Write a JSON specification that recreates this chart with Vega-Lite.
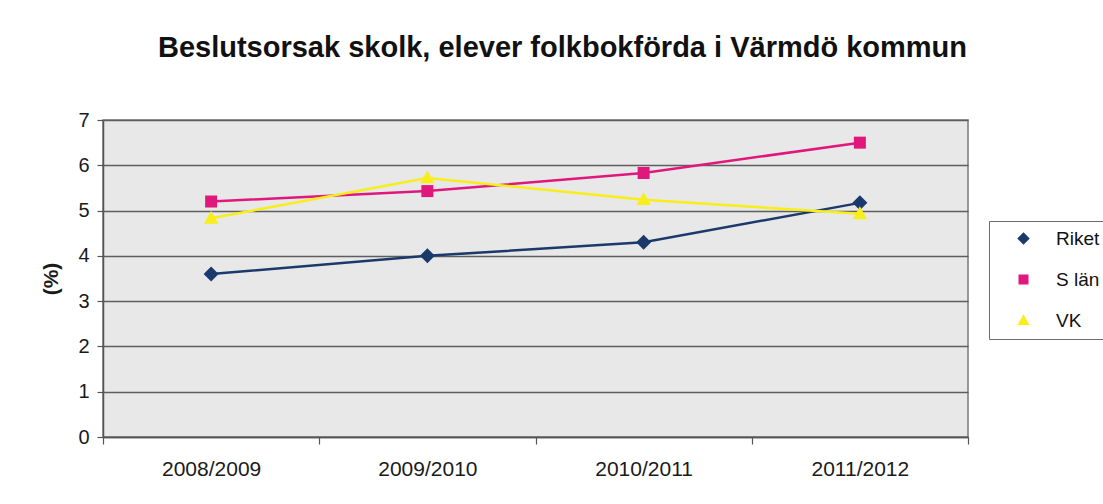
{
  "$schema": "https://vega.github.io/schema/vega-lite/v6.json",
  "autosize": {"type": "none"},
  "width": 865,
  "height": 317,
  "padding": {"left": 103, "top": 120, "right": 135, "bottom": 67},
  "background": "white",
  "config": {
    "font": "Liberation Sans",
    "view": {"fill": "#e8e8e8", "stroke": "#7a7a7a", "strokeWidth": 1.5},
    "axis": {"labelFont": "Liberation Sans", "titleFont": "Liberation Sans", "labelColor": "#1a1a1a", "titleColor": "#1a1a1a"}
  },
  "title": {
    "text": "Beslutsorsak skolk, elever folkbokförda i Värmdö kommun",
    "font": "Liberation Sans",
    "fontSize": 29,
    "fontWeight": "bold",
    "color": "#111111",
    "anchor": "middle",
    "frame": "group",
    "dx": 27,
    "offset": 47
  },
  "data": {
    "values": [
      {"year": "2008/2009", "serie": "Riket", "value": 3.6},
      {"year": "2009/2010", "serie": "Riket", "value": 4.0},
      {"year": "2010/2011", "serie": "Riket", "value": 4.3},
      {"year": "2011/2012", "serie": "Riket", "value": 5.17},
      {"year": "2008/2009", "serie": "S län", "value": 5.2},
      {"year": "2009/2010", "serie": "S län", "value": 5.43},
      {"year": "2010/2011", "serie": "S län", "value": 5.83},
      {"year": "2011/2012", "serie": "S län", "value": 6.5},
      {"year": "2008/2009", "serie": "VK", "value": 4.83},
      {"year": "2009/2010", "serie": "VK", "value": 5.72},
      {"year": "2010/2011", "serie": "VK", "value": 5.24},
      {"year": "2011/2012", "serie": "VK", "value": 4.93}
    ]
  },
  "encoding": {
    "x": {
      "field": "year",
      "type": "ordinal",
      "scale": {"type": "band", "paddingInner": 0, "paddingOuter": 0},
      "axis": {
        "title": null,
        "labelAngle": 0,
        "labelFontSize": 21,
        "labelPadding": 14,
        "tickBand": "extent",
        "tickSize": 7,
        "tickColor": "#555555",
        "tickWidth": 1.2,
        "domainColor": "#555555",
        "domainWidth": 1.5,
        "grid": false
      }
    },
    "y": {
      "field": "value",
      "type": "quantitative",
      "scale": {"domain": [0, 7], "nice": false, "zero": true},
      "axis": {
        "title": "(%)",
        "titleFontSize": 21,
        "titleFontWeight": "bold",
        "titlePadding": 16,
        "values": [0, 1, 2, 3, 4, 5, 6, 7],
        "labelFontSize": 20,
        "labelPadding": 8,
        "tickSize": 6,
        "tickColor": "#555555",
        "tickWidth": 1.2,
        "domainColor": "#555555",
        "domainWidth": 1.5,
        "grid": true,
        "gridColor": "#5e5e5e",
        "gridWidth": 1.4
      }
    }
  },
  "layer": [
    {
      "mark": {"type": "point", "filled": true, "opacity": 1, "size": 144},
      "encoding": {
        "color": {
          "field": "serie",
          "type": "nominal",
          "scale": {"domain": ["Riket", "S län", "VK"], "range": ["#1b3a6b", "#e0177c", "#f7ee1a"]},
          "legend": {
            "title": null,
            "orient": "none",
            "legendX": 886,
            "legendY": 101,
            "padding": 8,
            "strokeColor": "#6e6e6e",
            "fillColor": "white",
            "symbolSize": 100,
            "symbolStrokeWidth": 0,
            "symbolOffset": 17,
            "labelOffset": 23,
            "labelFontSize": 19,
            "labelFont": "Liberation Sans",
            "labelColor": "#111111",
            "rowPadding": 21,
            "encode": {
              "symbols": {
                "strokeWidth": {"value": 0},
                "shape": {
                  "condition": [
                    {"test": "datum.value === 'Riket'", "value": "M-5,-0.25H5V0.25H-5Z M0,-1.3L1.3,0L0,1.3L-1.3,0Z"},
                    {"test": "datum.value === 'S län'", "value": "M-5,-0.25H5V0.25H-5Z M-1.1,-1.1H1.1V1.1H-1.1Z"}
                  ],
                  "value": "M-5,-0.25H5V0.25H-5Z M0,-1.3L1.3,1.1L-1.3,1.1Z"
                }
              }
            }
          }
        },
        "shape": {
          "field": "serie",
          "type": "nominal",
          "scale": {"domain": ["Riket", "S län", "VK"], "range": ["M0,-1.25L1.25,0L0,1.25L-1.25,0Z", "M-1,-1H1V1H-1Z", "M0,-1.25L1.2,0.9L-1.2,0.9Z"]},
          "legend": null
        }
      }
    },
    {
      "mark": {"type": "line", "strokeWidth": 2.5},
      "encoding": {
        "color": {
          "field": "serie",
          "type": "nominal",
          "scale": {"domain": ["Riket", "S län", "VK"], "range": ["#1b3a6b", "#e0177c", "#f7ee1a"]}
        }
      }
    }
  ]
}
